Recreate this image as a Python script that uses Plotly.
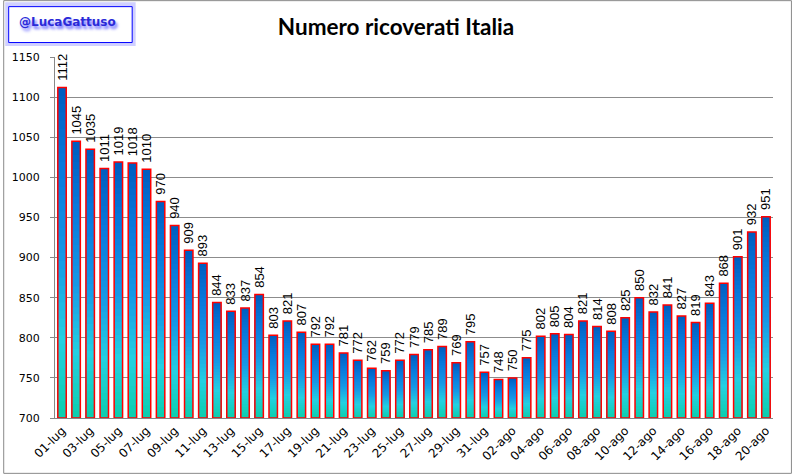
import plotly.graph_objects as go

# ---- data ----
dates = [f"{d:02d}-lug" for d in range(1, 32)] + [f"{d:02d}-ago" for d in range(1, 21)]
ricoverati = [1112, 1045, 1035, 1011, 1019, 1018, 1010, 970, 940, 909, 893, 844, 833, 837,
              854, 803, 821, 807, 792, 792, 781, 772, 762, 759, 772, 779, 785, 789, 769, 795,
              757, 748, 750, 775, 802, 805, 804, 821, 814, 808, 825, 850, 832, 841, 827, 819,
              843, 868, 901, 932, 951]
tick_labels = dates[::2]
y_min, y_max = 700, 1150

# ---- styling helpers ----
stops = [(0.0, (10, 206, 170)), (0.25, (36, 208, 226)), (0.5, (22, 152, 230)),
         (0.78, (8, 120, 220)), (1.0, (0, 94, 192))]


def grad(f):
    for (f0, c0), (f1, c1) in zip(stops[:-1], stops[1:]):
        if f0 <= f <= f1:
            t = (f - f0) / (f1 - f0) if f1 > f0 else 0
            r, g, b = (round(c0[i] + (c1[i] - c0[i]) * t) for i in range(3))
            return f"rgb({r},{g},{b})"
    return "rgb(0,94,192)"


fig = go.Figure()
K = 40
for k in range(K):
    f = 1 - k / K
    heights = [(v - y_min) * f for v in ricoverati]
    fig.add_trace(go.Bar(x=dates, y=heights, base=y_min, marker=dict(color=grad(f), line=dict(width=0)),
                         hoverinfo="skip", showlegend=False))

# outline + labels
fig.add_trace(go.Bar(x=dates, y=[v - y_min for v in ricoverati], base=y_min,
                     marker=dict(color="rgba(0,0,0,0)", line=dict(color="#ff0000", width=1.5)),
                     text=["\u00a0" + str(v) for v in ricoverati], textposition="outside", textangle=-90,
                     constraintext="none", cliponaxis=False,
                     textfont=dict(family="Liberation Sans, Arial", size=13, color="#000000"),
                     showlegend=False))

L, R, T, B = 52, 19, 57, 56
W, H = 792, 475
pw, ph = W - L - R, H - T - B


def px(x):
    return (x - L) / pw


def py(y):
    return (H - B - y) / ph


fig.update_layout(
    width=W, height=H,
    margin=dict(l=L, r=R, t=T, b=B),
    paper_bgcolor="white", plot_bgcolor="white",
    barmode="overlay", bargap=0.4,
    title=dict(text="<b>Numero ricoverati Italia</b>", x=0.5, xref="container", xanchor="center",
               y=1 - 27 / H, yanchor="middle",
               font=dict(family="Lato, Open Sans", size=22.5, color="#000000")),
    xaxis=dict(type="category", tickmode="array", tickvals=tick_labels, ticktext=tick_labels,
               tickangle=-45, showgrid=False, showline=True, linecolor="#888888", linewidth=1,
               ticks="", tickfont=dict(family="DejaVu Sans", size=12, color="#000000")),
    yaxis=dict(range=[y_min, y_max], dtick=50, showgrid=True, gridcolor="#8c8c8c", gridwidth=1,
               showline=True, linecolor="#888888", linewidth=1, ticks="outside", ticklen=4,
               tickcolor="#888888", zeroline=False, ticklabelstandoff=8,
               tickfont=dict(family="DejaVu Sans", size=11, color="#000000")),
    shapes=[
        dict(type="rect", xref="paper", yref="paper", x0=px(0.5), x1=px(W - 0.5), y0=py(H - 0.5), y1=py(0.5),
             line=dict(color="#8a8a8a", width=1), fillcolor="rgba(0,0,0,0)", layer="below"),
        dict(type="rect", xref="paper", yref="paper", x0=px(4), x1=px(131), y0=py(44), y1=py(4),
             line=dict(color="rgba(120,120,255,0.35)", width=4), fillcolor="rgba(0,0,0,0)"),
        dict(type="rect", xref="paper", yref="paper", x0=px(5.5), x1=px(129.5), y0=py(42.5), y1=py(6.5),
             line=dict(color="#0000ff", width=1), fillcolor="white"),
    ],
    annotations=[
        dict(text="<b>@LucaGattuso</b>", xref="paper", yref="paper", x=px(65), y=py(22), showarrow=False,
             xanchor="center", yanchor="middle",
             font=dict(family="DejaVu Sans", size=12, color="#2a2ad8", shadow="2px 3px 3px #6a6aff")),
    ],
)

fig.write_html("out.html", config={"displayModeBar": False},
               post_script="document.body.style.margin='0';document.body.style.overflow='hidden';")
